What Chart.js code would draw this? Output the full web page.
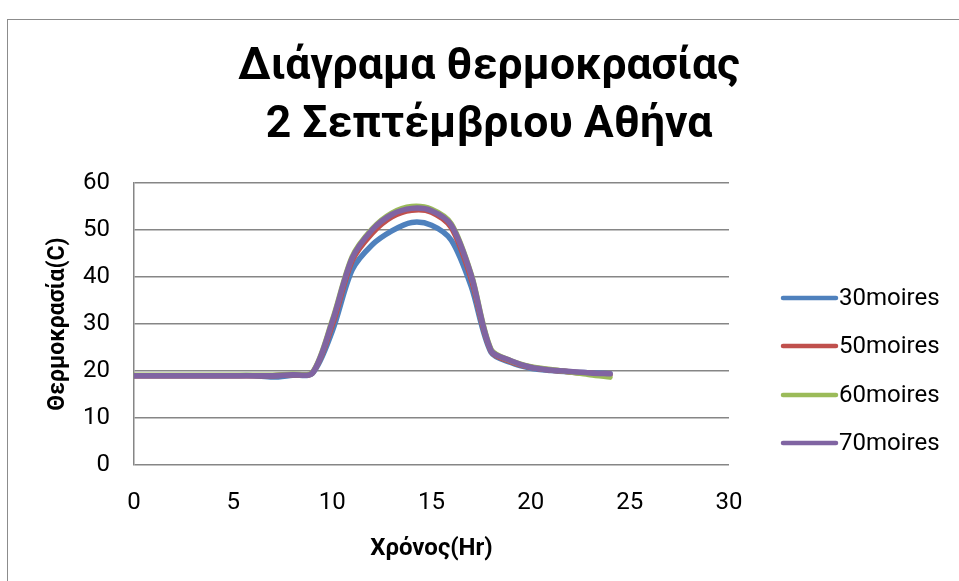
<!DOCTYPE html>
<html>
<head>
<meta charset="utf-8">
<script src="https://cdn.jsdelivr.net/npm/chart.js@4.4.1/dist/chart.umd.min.js"></script>
<style>
  html, body { margin: 0; padding: 0; background: #ffffff; }
  #wrap { width: 959px; height: 581px; position: relative; }
</style>
</head>
<body>
<div id="wrap"><canvas id="c" width="959" height="581"></canvas></div>
<script>
// ---- data ----
const titleLines = ['Διάγραμα θερμοκρασίας', '2 Σεπτέμβριου Αθήνα'];
const xTitle = 'Χρόνος(Hr)';
const yTitle = 'Θερμοκρασία(C)';
const hours = [0,1,2,3,4,5,6,7,8,9,10,11,12,13,14,15,16,17,18,19,20,21,22,23,24];
const seriesNames = ['30moires', '50moires', '60moires', '70moires'];
const temp30 = [19.0,19.0,19.0,19.0,19.0,19.0,19.0,18.7,19.1,19.5,28.5,41.5,46.8,49.8,51.6,51.0,47.8,38.0,24.0,21.8,20.6,20.1,19.8,19.6,19.4];
const temp50 = [19.0,19.0,19.0,19.0,19.0,19.0,19.0,19.0,19.2,19.6,29.8,43.5,49.3,52.8,54.2,53.8,50.5,39.6,24.3,22.0,20.8,20.2,19.8,19.5,19.2];
const temp60 = [19.1,19.1,19.1,19.1,19.1,19.1,19.1,19.1,19.3,19.7,30.8,44.3,50.2,53.6,55.0,54.4,51.3,40.6,24.6,22.2,20.9,20.3,19.8,19.2,18.7];
const temp70 = [19.0,19.0,19.0,19.0,19.0,19.0,19.0,19.0,19.2,19.6,30.5,44.0,50.0,53.3,54.6,54.1,51.0,40.4,24.4,22.2,20.8,20.2,19.9,19.6,19.4];
const xTicksMin = 0, xTicksMax = 30, xStep = 5;
const yTicksMin = 0, yTicksMax = 60, yStep = 10;

const colors = ['#4F81BD', '#C0504D', '#9BBB59', '#8064A2'];
const allSeries = [temp30, temp50, temp60, temp70];

const datasets = allSeries.map((vals, i) => ({
  label: seriesNames[i],
  data: hours.map((h, k) => ({x: h, y: vals[k]})),
  borderColor: colors[i],
  backgroundColor: colors[i],
  borderWidth: 5.5,
  pointRadius: 0,
  pointHoverRadius: 0,
  tension: 0.3,
  borderCapStyle: 'round',
  borderJoinStyle: 'round',
  fill: false,
  order: 3 - i
}));

const FONT = 'Roboto, "Noto Sans", sans-serif';

const decor = {
  id: 'decor',
  beforeDraw(chart) {
    const ctx = chart.ctx;
    ctx.save();
    ctx.fillStyle = '#ffffff';
    ctx.fillRect(0, 0, chart.width, chart.height);
    ctx.strokeStyle = '#8c8c8c';
    ctx.lineWidth = 1;
    ctx.strokeRect(7.5, 19.5, 1200, 1200);
    ctx.restore();
  },
  afterDraw(chart) {
    const ctx = chart.ctx;
    ctx.save();
    // title
    ctx.fillStyle = '#000000';
    ctx.font = 'bold 44.5px ' + FONT;
    ctx.textAlign = 'center';
    ctx.textBaseline = 'alphabetic';
    ctx.fillText(titleLines[0], 489, 79);
    ctx.fillText(titleLines[1], 489, 137);
    // legend
    const ys = [298, 346, 395, 443];
    chart.data.datasets.forEach((ds, i) => {
      ctx.strokeStyle = ds.borderColor;
      ctx.lineWidth = 4.5;
      ctx.lineCap = 'round';
      ctx.beginPath();
      ctx.moveTo(783, ys[i]);
      ctx.lineTo(836, ys[i]);
      ctx.stroke();
      ctx.fillStyle = '#000000';
      ctx.font = '24px ' + FONT;
      ctx.textAlign = 'left';
      ctx.textBaseline = 'middle';
      ctx.fillText(ds.label, 839, ys[i] + 1);
    });
    ctx.restore();
  }
};

new Chart(document.getElementById('c'), {
  type: 'line',
  data: { datasets },
  plugins: [decor],
  options: {
    responsive: false,
    animation: false,
    events: [],
    layout: { padding: { left: 0, right: 230, top: 183, bottom: 0 } },
    plugins: {
      legend: { display: false },
      title: { display: false },
      tooltip: { enabled: false }
    },
    scales: {
      x: {
        type: 'linear',
        min: xTicksMin, max: xTicksMax,
        ticks: { stepSize: xStep, color: '#000', font: { family: FONT, size: 24 }, padding: 24, maxRotation: 0 },
        grid: { display: false, drawTicks: false },
        border: { display: false },
        title: { display: true, text: xTitle, color: '#000', font: { family: FONT, size: 24, weight: 'bold' }, padding: { top: 0, bottom: 18 } },
        afterFit(scale) { scale.height = 116; }
      },
      y: {
        min: yTicksMin, max: yTicksMax,
        ticks: { stepSize: yStep, color: '#000', font: { family: FONT, size: 24 }, padding: 24 },
        grid: { color: '#868686', lineWidth: 1.5, drawTicks: false },
        border: { display: true, color: '#868686', width: 1.5 },
        title: { display: true, text: yTitle, color: '#000', font: { family: FONT, size: 23, weight: 'bold' }, padding: { top: 44, bottom: 0 } },
        afterFit(scale) { scale.width = 134; }
      }
    }
  }
});
</script>
</body>
</html>
